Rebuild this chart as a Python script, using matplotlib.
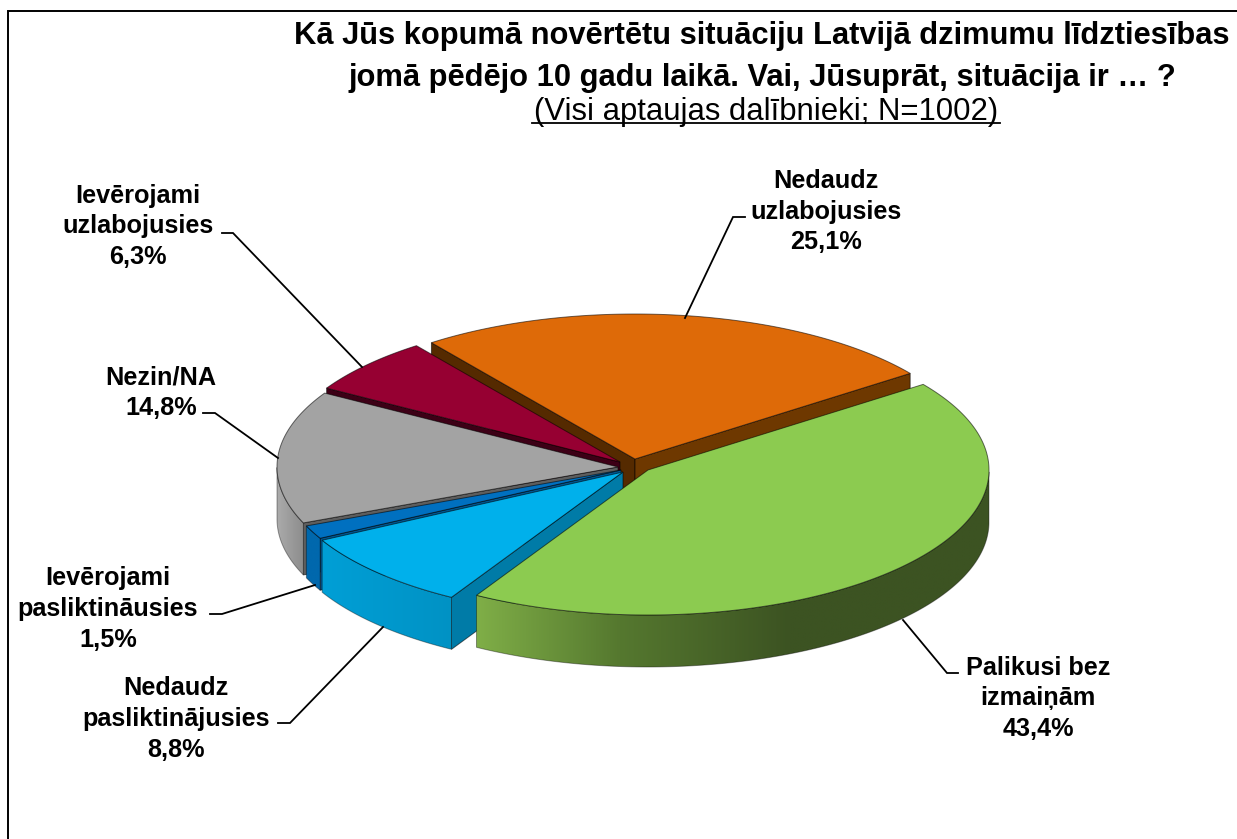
import numpy as np
import matplotlib
matplotlib.use("Agg")
import matplotlib.pyplot as plt
from matplotlib.colors import to_rgb
from matplotlib.patches import Polygon

plt.rcParams['font.family'] = ['Liberation Sans', 'DejaVu Sans']

# clockwise from the orange/green boundary
categories = ["Palikusi bez\nizmaiņām", "Nedaudz\npasliktinājusies", "Ievērojami\npasliktināusies",
              "Nezin/NA", "Ievērojami\nuzlabojusies", "Nedaudz\nuzlabojusies"]
values = [43.4, 8.8, 1.5, 14.8, 6.3, 25.1]

top_colors = ["#8CCB50", "#00B0EB", "#0070C0", "#A3A3A3", "#960032", "#DE6A08"]
side_colors = ["#3C5322", "#007BA7", "#00568F", "#5E5E5E", "#3D0016", "#552A00"]
side_colors_end = ["#3C5322", "#007BA7", "#00568F", "#5E5E5E", "#3D0016", "#6E3800"]
# wall shading, (x pixel, colour) stops
wall_stops = [
    [(478, "#7FAE47"), (620, "#55782F"), (790, "#3C5322"), (990, "#3C5322")],
    [(322, "#009FD6"), (453, "#0092C4")],
    [(305, "#0068AD"), (320, "#0068AD")],
    [(277, "#ABABAB"), (305, "#8A8A8A")],
    [(0, "#5A0020"), (1, "#5A0020")],
    [(0, "#A85200"), (1, "#A85200")],
]

# exploded apex of every slice, pixels
apex_x = [648, 623, 621, 618, 620, 635]
apex_y = [470, 472, 470, 467, 462, 459]

RX, RY, DEPTH = 341, 145, 52
START = 36.2

# label centre, leader line
label_pos = [(1038, 698.5), (176, 719), (108, 609), (161, 393), (138, 226.5), (826, 211.5)]
leaders = [
    [(903, 620), (947, 673), (958, 673)],
    [(383, 627), (290, 723), (278, 723)],
    [(315, 585), (222, 614), (210, 614)],
    [(278, 458), (215, 413), (203, 413)],
    [(362, 367), (233, 233), (222, 233)],
    [(685, 318), (733, 217), (745, 217)],
]


def wall_visible(a, mid):
    # radial wall shows only if the slice top lies above its edge in the picture
    dx, dy = np.cos(np.radians(a)), np.sin(np.radians(a))
    mx, my = np.cos(np.radians(mid)), np.sin(np.radians(mid))
    return my - mx * dy / dx > 0


fig = plt.figure(figsize=(12.37, 8.39), dpi=100)
ax = fig.add_axes([0, 0, 1, 1])

# outer frame, runs off the right and bottom
ax.plot([8, 8, 1237], [839, 11, 11], color='black', lw=1.4, solid_joinstyle='miter')

edges = np.cumsum([0] + values) / sum(values) * 360
draw_order = [5, 4, 3, 2, 1, 0]
edge_kw = dict(edgecolor='#00000090', linewidth=0.7)

for n, i in enumerate(draw_order):
    a0 = START - edges[i]
    a1 = START - edges[i + 1]
    mid = (a0 + a1) / 2
    ox, oy = apex_x[i], apex_y[i]
    t = np.radians(np.linspace(a0, a1, 200))
    x = ox + RX * np.cos(t)
    y = oy - RY * np.sin(t)
    z = 2 + 0.1 * n

    for a, col in ((a0, side_colors[i]), (a1, side_colors_end[i])):
        if wall_visible(a, mid):
            ex = ox + RX * np.cos(np.radians(a))
            ey = oy - RY * np.sin(np.radians(a))
            ax.fill([ox, ex, ex, ox], [oy, ey, ey + DEPTH, oy + DEPTH], facecolor=col, zorder=z, **edge_kw)

    # front wall, only the part below the ellipse centre
    front = np.sin(t) < 0
    if front.any():
        fx, fy = x[front], y[front]
        sx = [s[0] for s in wall_stops[i]]
        sc = np.array([to_rgb(s[1]) for s in wall_stops[i]])
        gx = np.linspace(fx.min(), fx.max(), 300)
        grad = np.dstack([np.interp(gx, sx, sc[:, c]) for c in range(3)])
        poly = Polygon(np.c_[np.r_[fx, fx[::-1]], np.r_[fy, fy[::-1] + DEPTH]], closed=True,
                       facecolor='none', edgecolor='#00000060', linewidth=0.7, zorder=z + 0.03)
        ax.add_patch(poly)
        im = ax.imshow(grad, extent=(fx.min(), fx.max(), (fy + DEPTH).max(), fy.min()), aspect='auto',
                       interpolation='bilinear', zorder=z + 0.02)
        im.set_clip_path(poly)

    # top face
    ax.fill(np.r_[ox, x], np.r_[oy, y], facecolor=top_colors[i], zorder=z + 0.05, **edge_kw)

ax.set_xlim(0, 1237)
ax.set_ylim(839, 0)
ax.axis('off')

# leader lines
for pts in leaders:
    ax.plot([p[0] for p in pts], [p[1] for p in pts], color='black', lw=1.3, zorder=5, solid_joinstyle='miter')

# labels
for name, v, (lx, ly) in zip(categories, values, label_pos):
    txt = name + "\n" + f"{v:.1f}".replace('.', ',') + "%"
    ax.text(lx, ly, txt, ha='center', va='center', fontsize=18.2, fontweight='bold',
            linespacing=1.36, color='black', zorder=6)

# title
ax.text(762, 57, "Kā Jūs kopumā novērtētu situāciju Latvijā dzimumu līdztiesības\n"
                 "jomā pēdējo 10 gadu laikā. Vai, Jūsuprāt, situācija ir … ?",
        ha='center', va='center', fontsize=22.2, fontweight='bold', linespacing=1.52, zorder=6)
ax.text(766, 112, "(Visi aptaujas dalībnieki; N=1002)", ha='center', va='center', fontsize=22.4, zorder=6)
ax.plot([532, 1000], [122.5, 122.5], color='black', lw=1.3, zorder=6)

fig.savefig("out.png", dpi=100, facecolor='white')
